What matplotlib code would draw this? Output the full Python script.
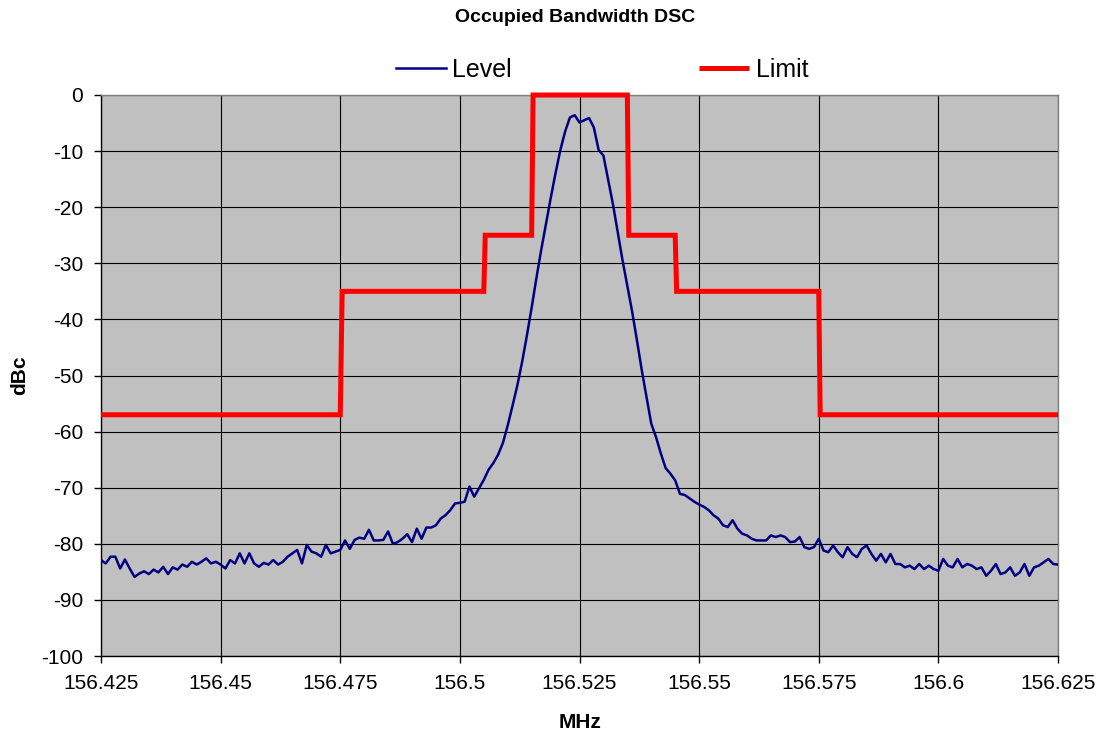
import numpy as np
import matplotlib
matplotlib.use('Agg')
import matplotlib.pyplot as plt

plt.rcParams['font.family'] = ['Liberation Sans', 'DejaVu Sans']
plt.rcParams['axes.unicode_minus'] = False  # 엑셀처럼 하이픈 마이너스

# 측정 데이터 (156.425 ~ 156.625 MHz, 0.001 MHz 간격)
freq_start = 156.425
freq_stop = 156.625
level_db = [
    -82.9, -83.5, -82.3, -82.3, -84.4, -82.8, -84.4, -85.9, -85.3, -84.9,
    -85.4, -84.6, -85.1, -84.1, -85.4, -84.2, -84.6, -83.7, -84.1, -83.2,
    -83.7, -83.2, -82.6, -83.5, -83.2, -83.7,
    -84.4, -82.9, -83.5, -81.7, -83.5, -81.7, -83.5, -84.1, -83.4, -83.7,
    -82.9, -83.7, -83.2, -82.3, -81.7, -81.1, -83.5, -80.2, -81.4, -81.7,
    -82.3, -80.2, -81.7, -81.4, -81.1,
    -79.4, -80.9, -79.3, -78.9, -79.1, -77.5, -79.4, -79.4, -79.3, -77.8,
    -80.0, -79.7, -79.1, -78.3, -79.7, -77.3, -79.1, -77.1, -77.1, -76.7,
    -75.5, -74.9, -74.0, -72.8, -72.7, -72.5, -69.8, -71.6, -70.1, -68.6,
    -66.8, -65.6, -64.1,
    -62.0, -58.9, -55.4, -51.8, -47.6, -42.9, -37.9, -32.6, -27.6, -22.9,
    -18.3, -13.9, -9.8, -6.5, -4.0, -3.6, -4.9, -4.5, -4.1, -5.8,
    -9.8, -10.8, -15.2, -19.5, -24.5, -29.5, -34.1, -38.6, -43.7, -49.0,
    -53.8, -58.6,
    -61.0, -63.9, -66.5, -67.5, -68.7, -71.1, -71.3, -71.9, -72.5, -73.0,
    -73.4, -74.0, -74.9, -75.5, -76.7, -77.0, -75.8, -77.3, -78.2, -78.5,
    -79.1, -79.4, -79.4, -79.4, -78.5, -78.8, -78.5, -78.8, -79.7, -79.6,
    -78.8, -80.6, -80.9, -80.6,
    -79.1, -81.2, -81.5, -80.3, -81.5, -82.4, -80.6, -81.8, -82.4, -80.9,
    -80.3, -81.8, -83.0, -81.8, -83.3, -81.8, -83.6, -83.6, -84.2, -83.9,
    -84.5, -83.6, -84.5, -83.9, -84.5, -84.8, -82.7, -83.9, -84.2, -82.7,
    -84.2, -83.6, -83.9, -84.5, -84.2, -85.7, -84.8, -83.6, -85.4, -85.1,
    -84.2, -85.7, -85.1, -83.6, -85.7, -84.2, -83.9, -83.3, -82.7, -83.6,
    -83.7,
]
freq_mhz = np.linspace(freq_start, freq_stop, len(level_db))

# 마스크 (Limit)
limit_freq = [156.425, 156.475, 156.4754, 156.505, 156.5053, 156.515, 156.5153,
              156.535, 156.5353, 156.545, 156.5453, 156.575, 156.5753, 156.625]
limit_db = [-57, -57, -35, -35, -25, -25, 0, 0, -25, -25, -35, -35, -57, -57]

x_ticks = [156.425, 156.45, 156.475, 156.5, 156.525, 156.55, 156.575, 156.6, 156.625]
x_labels = ['156.425', '156.45', '156.475', '156.5', '156.525', '156.55',
            '156.575', '156.6', '156.625']
y_ticks = list(range(-100, 1, 10))

fig = plt.figure(figsize=(11.01, 7.36), dpi=100)
ax = fig.add_axes([101 / 1101, 1 - 656 / 736, 957 / 1101, 561 / 736])
ax.set_facecolor('#C0C0C0')

ax.plot(freq_mhz, level_db, color='#000080', lw=1.8, label='Level', zorder=3)
ax.plot(limit_freq, limit_db, color='#FF0000', lw=3.6, label='Limit',
        zorder=4, clip_on=False, solid_joinstyle='miter', solid_capstyle='butt')

ax.set_xlim(freq_start, freq_stop)
ax.set_ylim(-100, 0)
ax.set_xticks(x_ticks)
ax.set_xticklabels(x_labels)
ax.set_yticks(y_ticks)
ax.tick_params(axis='both', direction='out', length=5, width=1, labelsize=15,
               color='black')
ax.tick_params(axis='x', pad=8)
ax.tick_params(axis='y', pad=8)

ax.grid(True, color='black', lw=0.8)
ax.set_axisbelow(True)

ax.spines['left'].set_color('black')
ax.spines['bottom'].set_color('black')
ax.spines['top'].set_color('#808080')
ax.spines['right'].set_color('#808080')
for s in ax.spines.values():
    s.set_linewidth(1.0)

fig.text(575 / 1101, 1 - 18 / 736, 'Occupied Bandwidth DSC', ha='center',
         va='center', fontsize=14, fontweight='bold')
fig.text(580 / 1101, 1 - 722 / 736, 'MHz', ha='center', va='center',
         fontsize=15, fontweight='bold')
fig.text(20 / 1101, 1 - 375 / 736, 'dBc', ha='center', va='center',
         fontsize=15, fontweight='bold', rotation=90)

fig.legend(loc='center', bbox_to_anchor=(602 / 1101, 1 - 70 / 736), ncol=2,
           frameon=False, fontsize=18, handlelength=2.0, handletextpad=0.25,
           columnspacing=7.5, borderpad=0)

fig.savefig('out.png', dpi=100)
plt.close(fig)
